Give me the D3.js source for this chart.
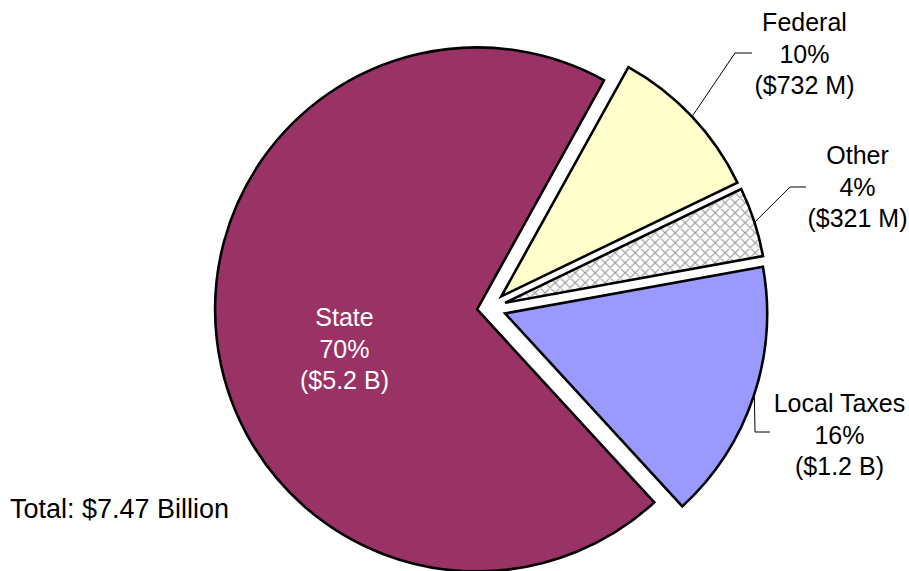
<!DOCTYPE html>
<html>
<head>
<meta charset="utf-8">
<script src="https://cdn.jsdelivr.net/npm/d3@7"></script>
<style>
  html, body { margin: 0; padding: 0; background: #ffffff; }
  svg { display: block; }
  text { font-family: "Liberation Sans", Arial, sans-serif; }
</style>
</head>
<body>
<svg id="chart" width="909" height="571"></svg>
<script>
// Revenue sources, in millions of dollars
const categories = ["Federal", "Other", "Local Taxes", "State"];
const amounts = [732, 321, 1197, 5220];
const percentLabels = ["10%", "4%", "16%", "70%"];
const amountLabels = ["($732 M)", "($321 M)", "($1.2 B)", "($5.2 B)"];
const totalLabel = "Total: $7.47 Billion";

// Layout
const W = 909, H = 571;
const cx = 489, cy = 308, radius = 262;
const startDeg = 29;
const explode = [17, 17, 17, 12];
const fills = ["#FFFFCC", "url(#crosshatch)", "#9999FF", "#993366"];
const labelFont = 25, lineGap = 31.7;
// text anchor (centre x, first baseline), leader elbow and end for each slice
const labelLayout = [
  { x: 804.5, y: 31,  elbow: [735, 53],  end: [752, 53],  color: "#000" },
  { x: 857.5, y: 164, elbow: [790, 187], end: [806, 187], color: "#000" },
  { x: 839.5, y: 412, elbow: [755, 432], end: [770, 432], color: "#000" },
  { x: 344.5, y: 326, elbow: null,       end: null,       color: "#fff" }
];

const svg = d3.select("#chart");

// crosshatch fill for the small slice
const defs = svg.append("defs");
const P = 10;
const pat = defs.append("pattern")
  .attr("id", "crosshatch")
  .attr("patternUnits", "userSpaceOnUse")
  .attr("width", P).attr("height", P);
pat.append("rect").attr("width", P).attr("height", P).attr("fill", "#ffffff");
pat.append("path")
  .attr("d", `M0,0L${P},${P}M${P},0L0,${P}M-1,${P - 1}L1,${P + 1}M${P - 1},-1L${P + 1},1M-1,1L1,-1M${P - 1},${P + 1}L${P + 1},${P - 1}`)
  .attr("stroke", "#9a9a9a").attr("stroke-width", 1.2).attr("fill", "none");

const rows = categories.map((c, i) => ({
  name: c, value: amounts[i], pct: percentLabels[i], amt: amountLabels[i], i
}));

const pie = d3.pie()
  .sort(null)
  .value(d => d.value)
  .startAngle(startDeg * Math.PI / 180)
  .endAngle(startDeg * Math.PI / 180 + 2 * Math.PI);

const arc = d3.arc().innerRadius(0).outerRadius(radius);
const arcs = pie(rows);

const g = svg.append("g").attr("transform", `translate(${cx},${cy})`);

function offset(d) {
  const mid = (d.startAngle + d.endAngle) / 2;
  const k = explode[d.data.i];
  return [k * Math.sin(mid), -k * Math.cos(mid)];
}

g.selectAll("path.slice")
  .data(arcs)
  .join("path")
  .attr("class", "slice")
  .attr("transform", d => { const o = offset(d); return `translate(${o[0]},${o[1]})`; })
  .attr("d", arc)
  .attr("fill", d => fills[d.data.i])
  .attr("stroke", "#000")
  .attr("stroke-width", 2.6)
  .attr("stroke-linejoin", "miter");

// leader lines from the middle of each outer arc to its label
arcs.forEach(d => {
  const L = labelLayout[d.data.i];
  if (!L.elbow) return;
  const mid = (d.startAngle + d.endAngle) / 2;
  const o = offset(d);
  const r0 = radius + 1;
  const sx = cx + o[0] + r0 * Math.sin(mid);
  const sy = cy + o[1] - r0 * Math.cos(mid);
  svg.append("path")
    .attr("d", d3.line()([[sx, sy], L.elbow, L.end]))
    .attr("fill", "none")
    .attr("stroke", "#000")
    .attr("stroke-width", 1);
});

// data labels
arcs.forEach(d => {
  const L = labelLayout[d.data.i];
  const t = svg.append("text")
    .attr("text-anchor", "middle")
    .attr("font-size", labelFont)
    .attr("fill", L.color);
  [d.data.name, d.data.pct, d.data.amt].forEach((s, j) => {
    t.append("tspan").attr("x", L.x).attr("y", L.y + j * lineGap).text(s);
  });
});

svg.append("text")
  .attr("x", 10).attr("y", 518)
  .attr("font-size", 27)
  .attr("fill", "#000")
  .text(totalLabel);
</script>
</body>
</html>
